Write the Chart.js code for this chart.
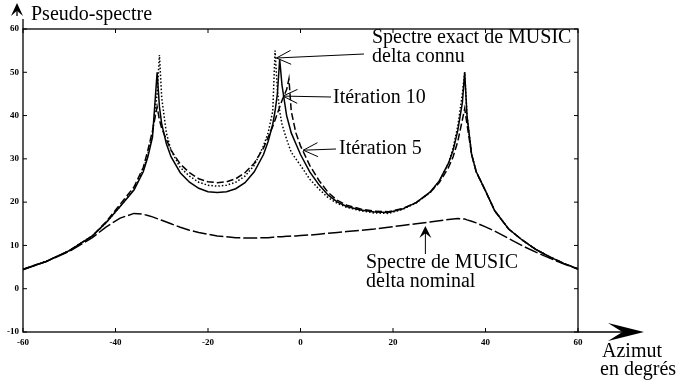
<!DOCTYPE html>
<html>
<head>
<meta charset="utf-8">
<script src="https://cdn.jsdelivr.net/npm/chart.js@4/dist/chart.umd.min.js"></script>
<style>
  body { margin: 0; background: #fff; }
  canvas { display: block; }
</style>
</head>
<body>
<canvas id="chart" width="677" height="381"></canvas>
<script>
// azimut (degrés)
const angles = [-60, -55, -50, -45, -42, -39, -36, -34, -33, -32,
    -31, -30.5, -30, -29, -28, -26, -24, -22, -20, -18,
    -16, -14, -12, -10, -8, -7, -6, -5.5, -5, -4.5,
    -4, -3, -2.5, -2, -1, 0, 2, 4, 6, 8,
    10, 13, 16, 19, 22, 25, 28, 30, 32, 33,
    34, 35, 35.5, 36, 37, 38, 40, 42, 45, 48,
    51, 54, 57, 60];

// spectre exact de MUSIC, delta connu (pointillé)
const exactSpectrum = [4.5, 6.3, 8.8, 12.2, 15.3, 19, 23, 27.5, 31, 36,
    45, 54, 44, 36, 32, 28, 26, 24.6, 23.9, 23.7,
    23.9, 24.6, 26, 28.5, 33, 36, 41, 55, 46, 41,
    38, 34.5, 33, 31.5, 30, 28.5, 25.3, 23, 21, 19.7,
    18.8, 18, 17.5, 17.4, 18.3, 19.8, 22.2, 24.8, 29, 32.5,
    37.5, 45, 50, 40, 31, 27, 22.6, 18, 13.8, 11.2,
    9, 7.3, 5.8, 4.6];

// itération 10 (trait plein)
const iter10 = [4.5, 6.3, 8.8, 12.2, 15.3, 19, 22.8, 27, 30.5, 35,
    50, 42, 38, 33.5, 30.5, 26.8, 24.6, 23.2, 22.4, 22.2,
    22.4, 23.1, 24.5, 27, 31, 34, 38, 41, 45, 53,
    47, 40, 38, 36, 33.5, 31, 27, 24, 21.6, 20,
    19, 18.2, 17.7, 17.6, 18.4, 19.9, 22.3, 24.9, 29, 32,
    36.5, 43, 50, 40, 31, 27, 22.6, 18, 13.8, 11.2,
    9, 7.3, 5.8, 4.6];

// itération 5 (tirets)
const iter5 = [4.5, 6.3, 8.8, 12.2, 15.5, 19.5, 23.5, 28, 32, 36.5,
    42, 39, 37, 34.5, 32, 28.8, 26.8, 25.4, 24.7, 24.5,
    24.7, 25.4, 26.8, 29, 32.5, 35, 37.5, 39, 40.5, 42,
    43.5, 46, 48.5, 41, 36, 33, 28.5, 25, 22.2, 20.4,
    19.3, 18.4, 17.9, 17.8, 18.5, 19.9, 22.2, 24.5, 28, 30.5,
    34, 39, 41.6, 38, 31, 27, 22.6, 18, 13.8, 11.2,
    9, 7.3, 5.8, 4.6];

// spectre de MUSIC, delta nominal
const nominal = [4.4, 6.3, 8.6, 11.8, 14.3, 16.3, 17.4, 17.2, 16.9, 16.6,
    16.2, 16, 15.8, 15.4, 15, 14.2, 13.5, 13, 12.6, 12.2,
    12, 11.8, 11.7, 11.7, 11.8, 11.8, 11.9, 11.9, 12, 12,
    12, 12.1, 12.1, 12.2, 12.2, 12.3, 12.4, 12.6, 12.8, 13,
    13.2, 13.5, 13.8, 14.2, 14.6, 15, 15.4, 15.7, 16, 16.1,
    16.2, 16.1, 16.1, 15.9, 15.6, 15.2, 14.3, 13.3, 11.6, 9.9,
    8.4, 7, 5.7, 4.5];

const xTicks = [-60, -40, -20, 0, 20, 40, 60];
const yTicks = [-10, 0, 10, 20, 30, 40, 50, 60];

function toPoints(vals) {
    return angles.map(function (a, i) { return { x: a, y: vals[i] }; });
}

function lineSet(label, vals, dash, width) {
    return {
        label: label,
        data: toPoints(vals),
        borderColor: "#000",
        borderWidth: width,
        borderDash: dash,
        pointRadius: 0,
        tension: 0,
        fill: false,
    };
}

function openArrow(ctx, x1, y1, x2, y2) {
    // tige de x1,y1 vers la pointe x2,y2, tête en chevron
    var ang = Math.atan2(y2 - y1, x2 - x1);
    ctx.beginPath();
    ctx.moveTo(x1, y1);
    ctx.lineTo(x2, y2);
    ctx.moveTo(x2 - 16 * Math.cos(ang - 0.45), y2 - 16 * Math.sin(ang - 0.45));
    ctx.lineTo(x2, y2);
    ctx.lineTo(x2 - 16 * Math.cos(ang + 0.45), y2 - 16 * Math.sin(ang + 0.45));
    ctx.stroke();
}

function filledHead(ctx, x, y, ang, len, half) {
    ctx.beginPath();
    ctx.moveTo(x, y);
    ctx.lineTo(x - len * Math.cos(ang) + half * Math.sin(ang), y - len * Math.sin(ang) - half * Math.cos(ang));
    ctx.lineTo(x - len * 0.6 * Math.cos(ang), y - len * 0.6 * Math.sin(ang));
    ctx.lineTo(x - len * Math.cos(ang) - half * Math.sin(ang), y - len * Math.sin(ang) + half * Math.cos(ang));
    ctx.closePath();
    ctx.fill();
}

const decorations = {
    id: "decorations",
    afterDraw: function (chart) {
        var ctx = chart.ctx;
        var a = chart.chartArea;
        var xs = chart.scales.x;
        var ys = chart.scales.y;
        ctx.save();
        ctx.strokeStyle = "#000";
        ctx.fillStyle = "#000";
        ctx.lineWidth = 1.3;
        ctx.setLineDash([]);
        ctx.strokeRect(a.left, a.top, a.right - a.left, a.bottom - a.top);

        // petites graduations vers l'intérieur
        ctx.lineWidth = 1;
        yTicks.forEach(function (v) {
            var py = ys.getPixelForValue(v);
            ctx.beginPath();
            ctx.moveTo(a.left, py); ctx.lineTo(a.left + 4, py);
            ctx.moveTo(a.right, py); ctx.lineTo(a.right - 4, py);
            ctx.stroke();
        });
        xTicks.forEach(function (v) {
            var px = xs.getPixelForValue(v);
            ctx.beginPath();
            ctx.moveTo(px, a.bottom); ctx.lineTo(px, a.bottom - 4);
            ctx.moveTo(px, a.top); ctx.lineTo(px, a.top + 4);
            ctx.stroke();
        });

        // flèches des axes
        ctx.lineWidth = 1.3;
        ctx.beginPath();
        ctx.moveTo(a.left, a.top);
        ctx.lineTo(a.left, a.top - 10);
        ctx.stroke();
        filledHead(ctx, a.left - 6, 3, -Math.PI / 2, 13, 6);
        ctx.beginPath();
        ctx.moveTo(a.left - 6, 8);
        ctx.lineTo(a.left - 6, 16);
        ctx.stroke();
        ctx.beginPath();
        ctx.moveTo(a.right, a.bottom);
        ctx.lineTo(a.right + 50, a.bottom);
        ctx.stroke();
        filledHead(ctx, a.right + 66, a.bottom, 0, 36, 9);

        // textes
        ctx.font = "20px 'Liberation Serif'";
        ctx.textBaseline = "middle";
        ctx.textAlign = "left";
        ctx.fillText("Pseudo-spectre", a.left + 8, 15);
        ctx.fillText("Azimut", a.right + 24, 352);
        ctx.fillText("en degrés", a.right + 22, 370);

        ctx.fillText("Spectre exact de MUSIC", 372, 38);
        ctx.fillText("delta connu", 372, 57);
        ctx.fillText("Itération 10", 333, 98);
        ctx.fillText("Itération 5", 339, 149);
        ctx.fillText("Spectre de MUSIC", 366, 263);
        ctx.fillText("delta nominal", 366, 282);

        // flèches des annotations (pointes placées par les échelles)
        ctx.lineWidth = 1;
        openArrow(ctx, 364, 54, xs.getPixelForValue(-5.2), ys.getPixelForValue(53.3));
        openArrow(ctx, 331, 97, xs.getPixelForValue(-3.8), ys.getPixelForValue(44.5));
        openArrow(ctx, 336, 149, xs.getPixelForValue(0.6), ys.getPixelForValue(32));
        var nx = xs.getPixelForValue(27);
        var ny = ys.getPixelForValue(14.5);
        ctx.beginPath();
        ctx.moveTo(nx, 254);
        ctx.lineTo(nx, ny + 4);
        ctx.stroke();
        filledHead(ctx, nx, ny, -Math.PI / 2, 12, 6);
        ctx.restore();
    },
};

const tickFont = { family: "'Liberation Serif'", size: 9, weight: "bold" };

new Chart(document.getElementById("chart").getContext("2d"), {
    type: "line",
    data: {
        datasets: [
            lineSet("Spectre exact de MUSIC delta connu", exactSpectrum, [1.5, 2], 1.5),
            lineSet("Itération 10", iter10, [], 1.5),
            lineSet("Itération 5", iter5, [7, 3], 1.5),
            lineSet("Spectre de MUSIC delta nominal", nominal, [14, 3], 1.5),
        ],
    },
    options: {
        responsive: false,
        animation: false,
        layout: {
            padding: { left: 0, right: 99, top: 29, bottom: 30 },
        },
        scales: {
            x: {
                type: "linear",
                min: -60,
                max: 60,
                afterBuildTicks: function (scale) {
                    scale.ticks = xTicks.map(function (v) { return { value: v }; });
                },
                afterFit: function (scale) { scale.height = 19; },
                grid: { display: false, drawTicks: false },
                border: { display: false },
                ticks: { color: "#000", font: tickFont, padding: 5, maxRotation: 0 },
            },
            y: {
                min: -10,
                max: 60,
                afterBuildTicks: function (scale) {
                    scale.ticks = yTicks.map(function (v) { return { value: v }; });
                },
                afterFit: function (scale) { scale.width = 23; },
                grid: { display: false, drawTicks: false },
                border: { display: false },
                ticks: { color: "#000", font: tickFont, padding: 4 },
            },
        },
        plugins: {
            legend: { display: false },
            tooltip: { enabled: false },
        },
    },
    plugins: [decorations],
});
</script>
</body>
</html>
